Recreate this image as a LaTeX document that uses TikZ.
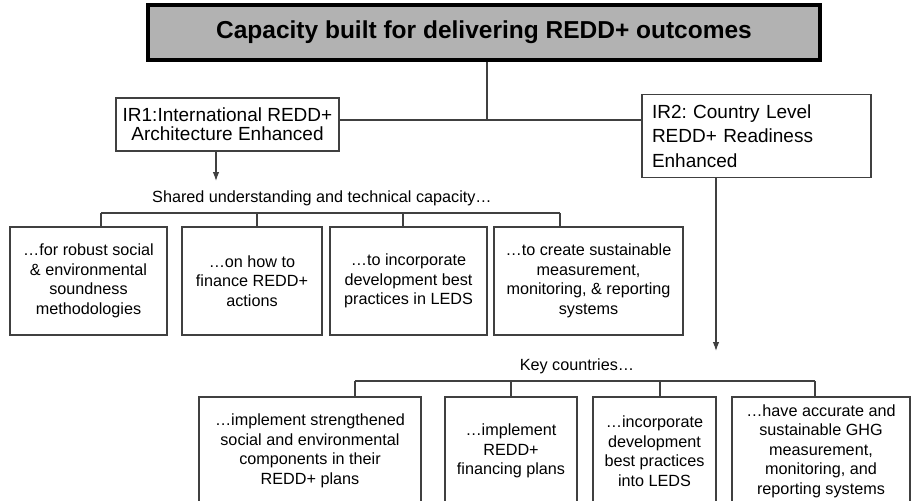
\documentclass[tikz,border=0pt]{standalone}
\usepackage{fontspec}
\setmainfont{Liberation Sans}
\frenchspacing
\usetikzlibrary{shapes,arrows.meta,positioning}

\begin{document}
\begin{tikzpicture}[x=1pt, y=-1pt, >={Latex[length=9pt,width=6.5pt]}, line width=1.1pt, draw=black!75]

% goal style
\tikzstyle{goal} = [
    draw = black,
    fill = black!30,
    line width = 3.2pt,
    rectangle,
    minimum height = 55pt,
    minimum width = 672pt,
    font = \fontsize{24.5}{29}\selectfont\bfseries
]

% result style
\tikzstyle{ir} = [
    draw,
    rectangle,
    line width = 1.3pt,
    font = \fontsize{19}{19}\selectfont
]

% sub result style
\tikzstyle{sub} = [
    draw,
    rectangle,
    line width = 1.3pt,
    align = center,
    minimum height = 108pt,
    font = \fontsize{16.2}{19.5}\selectfont
]

% plain text style
\tikzstyle{lbl} = [
    font = \fontsize{16.2}{19.5}\selectfont
]

\useasboundingbox (0,0) rectangle (911,501);

% Place the nodes.
\node [goal] (goal) at (484,32.5) {Capacity built for delivering REDD+ outcomes};

\node [ir, align=center, minimum width=223pt, minimum height=53pt] (ir1) at (227.5,124.5)
    {IR1:International REDD+\\Architecture Enhanced};
\node [ir, align=left, text width=209pt, inner sep=10pt, minimum height=76pt,
    font=\fontsize{19}{24.5}\selectfont] (ir2) at (756.5,136)
    {IR2: Country Level\\REDD+ Readiness\\Enhanced};

\node [lbl] (shared) at (322,198) {Shared understanding and technical capacity…};
\node [lbl] (keyc) at (577,366) {Key countries…};

% IR1 row
\node [sub, minimum width=157pt] (robust) at (88.5,281)
    {…for robust social\\\& environmental\\soundness\\methodologies};
\node [sub, minimum width=140pt] (finance) at (252,281)
    {…on how to\\finance REDD+\\actions};
\node [sub, minimum width=157pt] (practice) at (408.5,281)
    {…to incorporate\\development best\\practices in LEDS};
\node [sub, minimum width=189pt] (mrv) at (588.5,281)
    {…to create sustainable\\measurement,\\monitoring, \& reporting\\systems};

% IR2 row
\node [sub, minimum width=222pt] (safeguard) at (310,451)
    {…implement strengthened\\social and environmental\\components in their\\REDD+ plans};
\node [sub, minimum width=132pt] (plans) at (511,451)
    {…implement\\REDD+\\financing plans};
\node [sub, minimum width=123pt] (leds) at (654.5,451)
    {…incorporate\\development\\best practices\\into LEDS};
\node [sub, minimum width=178pt] (ghg) at (821,451)
    {…have accurate and\\sustainable GHG\\measurement,\\monitoring, and\\reporting systems};

% Branch points.
\coordinate (join) at (487,120);
\coordinate (ir1-end) at (216,181);
\coordinate (ir2-end) at (716,351);
\coordinate (sh-a) at (101,213);
\coordinate (sh-b) at (257,213);
\coordinate (sh-c) at (403,213);
\coordinate (sh-d) at (560,213);
\coordinate (kc-a) at (355,381);
\coordinate (kc-b) at (511,381);
\coordinate (kc-c) at (660,381);
\coordinate (kc-d) at (815,381);

% Connect the nodes.
\draw (goal.south -| join) -- (join);
\draw (ir1.east |- join) -- (ir2.west |- join);
\draw [->] (ir1.south -| ir1-end) -- (ir1-end);
\draw [->] (ir2.south -| ir2-end) -- (ir2-end);

\draw (sh-a) -- (sh-d);
\draw (sh-a) -- (sh-a |- robust.north);
\draw (sh-b) -- (sh-b |- finance.north);
\draw (sh-c) -- (sh-c |- practice.north);
\draw (sh-d) -- (sh-d |- mrv.north);

\draw (kc-a) -- (kc-d);
\draw (kc-a) -- (kc-a |- safeguard.north);
\draw (kc-b) -- (kc-b |- plans.north);
\draw (kc-c) -- (kc-c |- leds.north);
\draw (kc-d) -- (kc-d |- ghg.north);

\end{tikzpicture}
\end{document}
